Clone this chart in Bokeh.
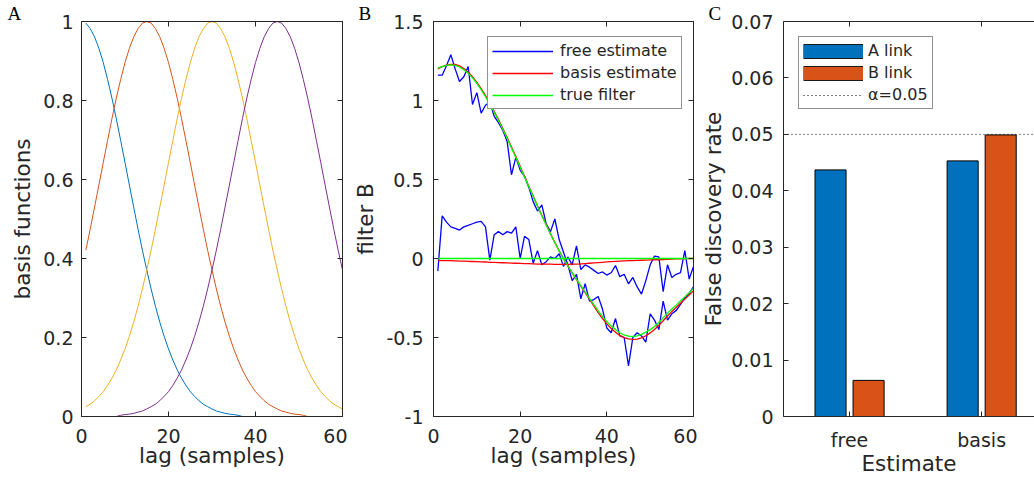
from bokeh.plotting import figure
from bokeh.layouts import row
from bokeh.models import (ColumnDataSource, Range1d, LinearAxis, FixedTicker,
                          Legend, LegendItem, CustomLabelingPolicy)
from bokeh.transform import dodge
from bokeh.embed import file_html
from bokeh.resources import INLINE

# ---------------- data ----------------
lag = list(range(1, 61))

basis_1 = [0.996, 0.982, 0.961, 0.932, 0.896, 0.853, 0.806, 0.754, 0.699, 0.643,
           0.586, 0.530, 0.474, 0.421, 0.371, 0.323, 0.279, 0.239, 0.203, 0.171,
           0.143, 0.118, 0.097, 0.079, 0.063, 0.051, 0.040, 0.031, 0.025, 0.019,
           0.014, 0.011, 0.008, 0.006, 0.005, 0.003, 0, 0, 0, 0,
           0, 0, 0, 0, 0, 0, 0, 0, 0, 0,
           0, 0, 0, 0, 0, 0, 0, 0, 0, 0]
basis_2 = [0.421, 0.474, 0.530, 0.586, 0.643, 0.699, 0.754, 0.806, 0.853, 0.896,
           0.932, 0.961, 0.982, 0.996, 1.000, 0.996, 0.982, 0.961, 0.932, 0.896,
           0.853, 0.806, 0.754, 0.699, 0.643, 0.586, 0.530, 0.474, 0.421, 0.371,
           0.323, 0.279, 0.239, 0.203, 0.171, 0.143, 0.118, 0.097, 0.079, 0.063,
           0.051, 0.040, 0.031, 0.025, 0.019, 0.014, 0.011, 0.008, 0.006, 0.005,
           0.003, 0, 0, 0, 0, 0, 0, 0, 0, 0]
basis_3 = [0.025, 0.031, 0.040, 0.051, 0.063, 0.079, 0.097, 0.118, 0.143, 0.171,
           0.203, 0.239, 0.279, 0.323, 0.371, 0.421, 0.474, 0.530, 0.586, 0.643,
           0.699, 0.754, 0.806, 0.853, 0.896, 0.932, 0.961, 0.982, 0.996, 1.000,
           0.996, 0.982, 0.961, 0.932, 0.896, 0.853, 0.806, 0.754, 0.699, 0.643,
           0.586, 0.530, 0.474, 0.421, 0.371, 0.323, 0.279, 0.239, 0.203, 0.171,
           0.143, 0.118, 0.097, 0.079, 0.063, 0.051, 0.040, 0.031, 0.025, 0.019]
basis_4 = [0, 0, 0, 0, 0, 0, 0, 0, 0.003, 0.005,
           0.006, 0.008, 0.011, 0.014, 0.019, 0.025, 0.031, 0.040, 0.051, 0.063,
           0.079, 0.097, 0.118, 0.143, 0.171, 0.203, 0.239, 0.279, 0.323, 0.371,
           0.421, 0.474, 0.530, 0.586, 0.643, 0.699, 0.754, 0.806, 0.853, 0.896,
           0.932, 0.961, 0.982, 0.996, 1.000, 0.996, 0.982, 0.961, 0.932, 0.896,
           0.853, 0.806, 0.754, 0.699, 0.643, 0.586, 0.530, 0.474, 0.421, 0.371]

# panel B: filter estimates
free_est_b = [1.16, 1.16, 1.22, 1.29, 1.20, 1.12, 1.15, 1.215, 0.975, 1.05,
              0.92, 0.97, 0.99, 0.90, 0.86, 0.81, 0.74, 0.53, 0.64, 0.56,
              0.52, 0.45, 0.36, 0.30, 0.34, 0.22, 0.17, 0.25, 0.12, 0.04,
              -0.04, -0.14, -0.10, -0.255, -0.16, -0.27, -0.26, -0.24, -0.32, -0.44,
              -0.47, -0.38, -0.49, -0.50, -0.68, -0.50, -0.47, -0.49, -0.53, -0.35,
              -0.39, -0.45, -0.27, -0.39, -0.35, -0.33, -0.29, -0.25, -0.22, -0.18]
free_est_0 = [-0.08, 0.27, 0.23, 0.20, 0.19, 0.18, 0.20, 0.21, 0.22, 0.23,
              0.235, 0.20, -0.01, 0.15, 0.17, 0.15, 0.17, 0.16, 0.20, 0.00,
              0.14, 0.12, -0.03, 0.05, -0.04, -0.02, 0.01, 0.00, 0.03, -0.05,
              0.01, -0.04, 0.08, -0.07, -0.04, -0.055, -0.075, -0.095, -0.085, -0.105,
              -0.09, -0.045, -0.115, -0.10, -0.16, -0.12, -0.18, -0.225, -0.14, -0.04,
              0.015, 0.01, -0.21, -0.04, -0.12, -0.10, -0.09, 0.05, -0.13, -0.05]
basis_est_b = [1.200, 1.214, 1.224, 1.229, 1.228, 1.219, 1.202, 1.179, 1.150, 1.115,
               1.075, 1.031, 0.983, 0.932, 0.879, 0.823, 0.765, 0.706, 0.645, 0.583,
               0.520, 0.457, 0.395, 0.334, 0.274, 0.215, 0.157, 0.102, 0.049, -0.002,
               -0.047, -0.091, -0.134, -0.176, -0.216, -0.258, -0.300, -0.342, -0.380, -0.414,
               -0.443, -0.467, -0.487, -0.501, -0.509, -0.512, -0.510, -0.502, -0.489, -0.471,
               -0.449, -0.423, -0.394, -0.364, -0.336, -0.310, -0.283, -0.257, -0.231, -0.205]
basis_est_0 = [-0.012, -0.013, -0.013, -0.014, -0.015, -0.016, -0.017, -0.018, -0.019, -0.020,
               -0.021, -0.022, -0.024, -0.025, -0.026, -0.027, -0.028, -0.029, -0.030, -0.031,
               -0.032, -0.033, -0.034, -0.035, -0.035, -0.036, -0.036, -0.037, -0.037, -0.037,
               -0.037, -0.036, -0.035, -0.034, -0.032, -0.030, -0.028, -0.026, -0.024, -0.022,
               -0.020, -0.018, -0.016, -0.015, -0.014, -0.013, -0.012, -0.011, -0.010, -0.009,
               -0.008, -0.008, -0.007, -0.006, -0.004, -0.003, -0.002, -0.001, 0.000, 0.000]
true_b = [1.205, 1.215, 1.222, 1.225, 1.222, 1.212, 1.195, 1.172, 1.143, 1.108,
          1.068, 1.024, 0.977, 0.926, 0.873, 0.817, 0.759, 0.700, 0.639, 0.578,
          0.516, 0.454, 0.392, 0.331, 0.271, 0.212, 0.155, 0.100, 0.047, 0.000,
          -0.046, -0.090, -0.132, -0.172, -0.212, -0.252, -0.292, -0.332, -0.368, -0.400,
          -0.428, -0.450, -0.470, -0.484, -0.492, -0.495, -0.490, -0.480, -0.466, -0.450,
          -0.430, -0.405, -0.376, -0.347, -0.320, -0.295, -0.268, -0.243, -0.217, -0.190]
true_0 = [0.0] * 60

# panel C: false discovery rates
estimates = ["free", "basis"]
est_pos = [1, 2]
fdr_a_link = [0.0437, 0.0453]
fdr_b_link = [0.0064, 0.0499]
alpha_level = 0.05

# ticks
lag_ticks = [0, 20, 40, 60]
lag_tick_labels = ["0", "20", "40", "60"]
a_y_ticks = [0, 0.2, 0.4, 0.6, 0.8, 1]
a_y_labels = ["0", "0.2", "0.4", "0.6", "0.8", "1"]
b_y_ticks = [-1, -0.5, 0, 0.5, 1, 1.5]
b_y_labels = ["-1", "-0.5", "0", "0.5", "1", "1.5"]
c_y_ticks = [0, 0.01, 0.02, 0.03, 0.04, 0.05, 0.06, 0.07]
c_y_labels = ["0", "0.01", "0.02", "0.03", "0.04", "0.05", "0.06", "0.07"]

# ---------------- style ----------------
AX = "#262626"
FONT = "DejaVu Sans"
TICK_FS = "19px"
LABEL_FS = "21.5px"
H = 478
FRAME_BOTTOM = 416
C_X_START, C_X_END = 0.5, 2.40

NO_LABELS = CustomLabelingPolicy(code="""
try { for (let i = 0; i < indices.size; i++) { indices.unset(i) } } catch (e) {}
return indices
""")


def make_fig(width, left, right, xr, yr, letter, letter_offset):
    p = figure(width=width, height=H, x_range=xr, y_range=yr,
               output_backend="svg", toolbar_location=None,
               x_axis_location=None, y_axis_location=None,
               min_border_left=left, min_border_right=right,
               min_border_top=21, min_border_bottom=H - FRAME_BOTTOM)
    p.outline_line_color = None
    p.xgrid.visible = False
    p.ygrid.visible = False
    p.background_fill_color = "white"
    p.border_fill_color = "white"
    # panel letter as the figure title
    p.title.text = letter
    p.title.align = "left"
    p.title.offset = letter_offset
    p.title.text_font = "Liberation Serif"
    p.title.text_font_size = "19px"
    p.title.text_font_style = "normal"
    p.title.text_color = "black"
    try:
        p.title.standoff = -4
    except Exception:
        p.title.standoff = 0
    return p


def style_axis(ax, labels=True, standoff=8, label_standoff=5):
    ax.axis_line_color = AX
    ax.axis_line_width = 1
    ax.major_tick_line_color = AX
    ax.major_tick_in = 5
    ax.major_tick_out = 0
    ax.minor_tick_line_color = None
    if labels:
        ax.major_label_text_font = FONT
        ax.major_label_text_font_size = TICK_FS
        ax.major_label_text_color = AX
        ax.major_label_standoff = standoff
    else:
        ax.major_label_policy = NO_LABELS
        ax.major_label_text_font_size = "1px"
        ax.major_label_text_color = None
        ax.major_label_standoff = 0
    ax.axis_label_text_font = FONT
    ax.axis_label_text_font_size = LABEL_FS
    ax.axis_label_text_font_style = "normal"
    ax.axis_label_text_color = AX
    ax.axis_label_standoff = label_standoff


def add_axes(p, xt, xl, xlabel, yt, yl, ylabel, y_standoff, y_label_standoff,
             right=True):
    bx = LinearAxis(ticker=FixedTicker(ticks=xt),
                    major_label_overrides=dict(zip(xt, xl)),
                    axis_label=xlabel)
    style_axis(bx, True, 12, -3)
    p.add_layout(bx, "below")
    ly = LinearAxis(ticker=FixedTicker(ticks=yt),
                    major_label_overrides=dict(zip(yt, yl)),
                    axis_label=ylabel)
    style_axis(ly, True, y_standoff, y_label_standoff)
    p.add_layout(ly, "left")
    tx = LinearAxis(ticker=FixedTicker(ticks=xt))
    style_axis(tx, False)
    p.add_layout(tx, "above")
    if right:
        ry = LinearAxis(ticker=FixedTicker(ticks=yt))
        style_axis(ry, False)
        p.add_layout(ry, "right")


def style_legend(leg, gw):
    leg.label_text_font = FONT
    leg.label_text_font_size = "16px"
    leg.label_text_color = AX
    leg.glyph_width = gw
    leg.glyph_height = 16
    leg.label_height = 16
    leg.label_standoff = 6
    leg.spacing = 3
    leg.padding = 4
    leg.margin = 0
    leg.border_line_color = AX
    leg.border_line_width = 1
    leg.background_fill_color = "white"
    leg.background_fill_alpha = 1


# ---------------- panel A ----------------
pa = make_fig(347, 81, 5, Range1d(0, 60), Range1d(0, 1), "A", -74)
add_axes(pa, lag_ticks, lag_tick_labels, "lag (samples)",
         a_y_ticks, a_y_labels, "basis functions", 8, 5)
src_a = ColumnDataSource(dict(lag=lag, b1=basis_1, b2=basis_2, b3=basis_3, b4=basis_4))
for col, colr in zip(["b1", "b2", "b3", "b4"],
                     ["#0072BD", "#D95319", "#EDB120", "#7E2F8E"]):
    pa.line("lag", col, source=src_a, line_color=colr, line_width=1)

# ---------------- panel B ----------------
pb = make_fig(350, 86, 4, Range1d(0, 60), Range1d(-1, 1.5), "B", -75)
add_axes(pb, lag_ticks, lag_tick_labels, "lag (samples)",
         b_y_ticks, b_y_labels, "filter B", 10, 5)
src_b = ColumnDataSource(dict(lag=lag, fb=free_est_b, f0=free_est_0,
                              bb=basis_est_b, b0=basis_est_0,
                              tb=true_b, t0=true_0))
LW_B = 1.3
r_f1 = pb.line("lag", "fb", source=src_b, line_color="#0000FF", line_width=LW_B)
r_f2 = pb.line("lag", "f0", source=src_b, line_color="#0000FF", line_width=LW_B)
r_b1 = pb.line("lag", "bb", source=src_b, line_color="#FF0000", line_width=LW_B)
r_b2 = pb.line("lag", "b0", source=src_b, line_color="#FF0000", line_width=LW_B)
r_t1 = pb.line("lag", "tb", source=src_b, line_color="#00FF00", line_width=LW_B)
r_t2 = pb.line("lag", "t0", source=src_b, line_color="#00FF00", line_width=LW_B)
leg_b = Legend(items=[LegendItem(label="free estimate", renderers=[r_f1]),
                      LegendItem(label="basis estimate", renderers=[r_b1]),
                      LegendItem(label="true filter", renderers=[r_t1])],
               location=(54, 307))
style_legend(leg_b, 61)
leg_b.label_standoff = 7
pb.add_layout(leg_b)

# ---------------- panel C ----------------
pc = make_fig(337, 86, 0, Range1d(C_X_START, C_X_END), Range1d(0, 0.07), "C", -75)
add_axes(pc, est_pos, estimates, "Estimate",
         c_y_ticks, c_y_labels, "False discovery rate", 10, 2, right=False)
src_c = ColumnDataSource(dict(pos=est_pos, a=fdr_a_link, b=fdr_b_link))
bar_w = 0.235
r_a = pc.vbar(x=dodge("pos", -0.144, range=pc.x_range), top="a", width=bar_w,
              source=src_c, fill_color="#0072BD", line_color="#000000", line_width=1)
r_b = pc.vbar(x=dodge("pos", 0.144, range=pc.x_range), top="b", width=bar_w,
              source=src_c, fill_color="#D95319", line_color="#000000", line_width=1)
r_alpha = pc.line(x=[C_X_START, C_X_END], y=[alpha_level, alpha_level],
                  line_color="#000000", line_width=1, line_dash="1 3")
# legend swatches: wide patches with a dark edge (one invisible NaN point each)
nan_y = [float("nan")]
pa_o = pc.line(x=est_pos[:1], y=nan_y, line_width=15, line_color="#1a1a1a")
pa_i = pc.line(x=est_pos[:1], y=nan_y, line_width=13, line_color="#0072BD")
pb_o = pc.line(x=est_pos[:1], y=nan_y, line_width=15, line_color="#1a1a1a")
pb_i = pc.line(x=est_pos[:1], y=nan_y, line_width=13, line_color="#D95319")
leg_c = Legend(items=[LegendItem(label="A link", renderers=[r_a, pa_o, pa_i]),
                      LegendItem(label="B link", renderers=[r_b, pb_o, pb_i]),
                      LegendItem(label="\u03b1=0.05", renderers=[r_alpha])],
               location=(15, 307))
style_legend(leg_c, 60)
leg_c.label_standoff = 5
pc.add_layout(leg_c)

layout = row(pa, pb, pc, spacing=0)
open("out.html", "w").write(file_html(layout, INLINE))
